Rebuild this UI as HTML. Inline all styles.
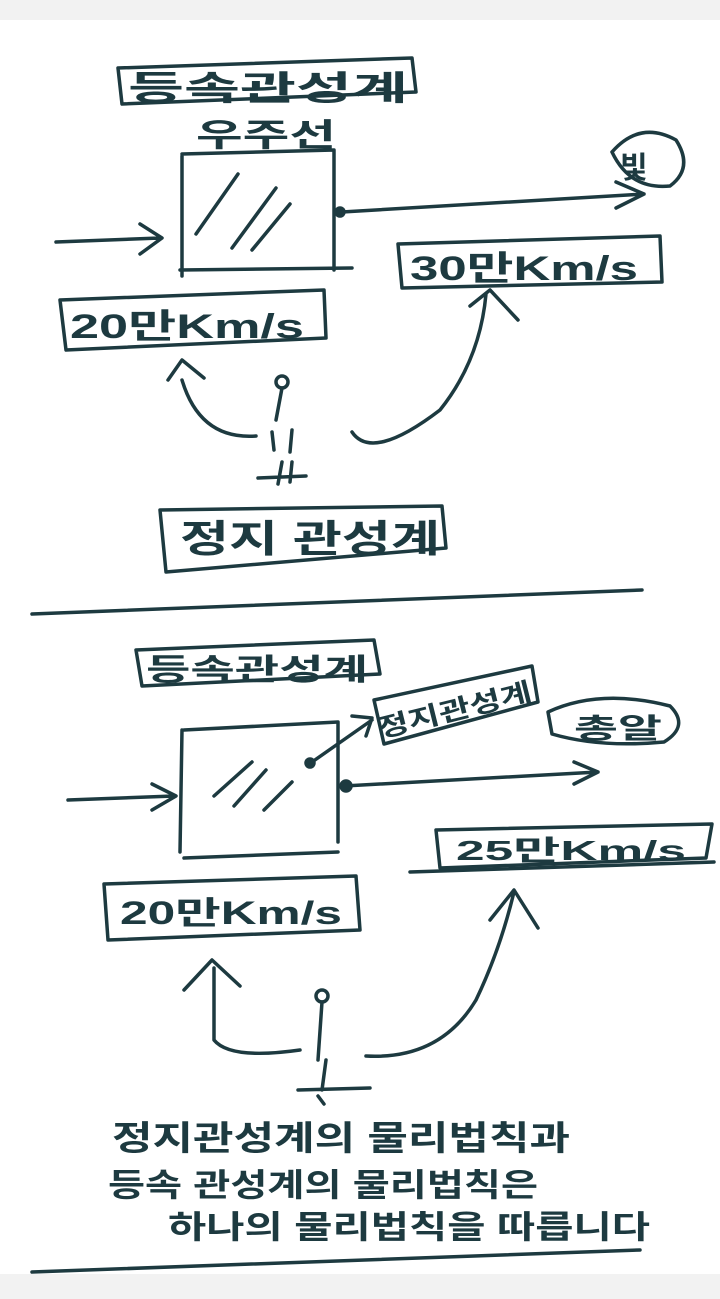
<!DOCTYPE html>
<html><head><meta charset="utf-8"><style>
html,body{margin:0;padding:0;background:#fff;}
svg{display:block;}
text{font-family:"Liberation Sans","Noto Sans CJK KR",sans-serif;fill:#1d3a40;font-weight:bold;}
</style></head><body>
<svg width="720" height="1299" viewBox="0 0 720 1299" xmlns="http://www.w3.org/2000/svg">
<rect x="0" y="0" width="720" height="20" fill="#f2f2f2"/>
<rect x="0" y="1274" width="720" height="25" fill="#f2f2f2"/>
<g fill="none" stroke="#1d3a40" stroke-width="3.5" stroke-linecap="round" stroke-linejoin="round">
<path d="M118 68 L412 58 L416 92 L122 104 Z"/>
<path d="M182 156 L182 276 M182 154 L334 150 L334 270"/>
<path d="M196 234 L238 174 M232 248 L276 188 M252 250 L290 204"/>
<path d="M56 242 L160 238 M140 224 L162 238 L140 254"/>
<path d="M342 212 L644 194 M616 182 L644 194 L616 208"/>
<circle cx="340" cy="212" r="4" fill="#1d3a40"/>
<path d="M612 152 Q640 120 676 140 Q694 168 670 186 Q630 190 612 152"/>
<path d="M180 270 L352 268"/>
<path d="M398 244 L660 236 L662 282 L402 288 Z"/>
<path d="M60 300 L324 290 L326 338 L66 350 Z"/>
<path d="M256 436 Q200 440 182 380 M168 380 L182 360 L204 378"/>
<path d="M352 432 Q372 462 440 410 Q480 360 486 294 M470 306 L490 290 L518 320"/>
<circle cx="282" cy="382" r="6"/>
<path d="M282 388 L276 420 M272 432 L274 450 M292 430 L290 452 M258 478 L306 476 M282 462 L278 484 M292 462 L290 482"/>
<path d="M160 510 L442 506 L446 548 L166 572 Z"/>
<path d="M32 614 L642 590"/>
<path d="M136 650 L374 640 L380 674 L142 686 Z"/>
<path d="M182 730 L180 852 M184 730 L338 722 L338 842 M184 858 L338 852"/>
<path d="M214 796 L252 762 M234 806 L266 770 M264 810 L292 782"/>
<path d="M68 800 L174 796 M152 784 L176 796 L152 810"/>
<path d="M312 762 L372 720 M352 716 L372 718 L366 736"/>
<circle cx="310" cy="763" r="4" fill="#1d3a40"/>
<path d="M344 786 L598 772 M574 762 L598 772 L574 784"/>
<circle cx="346" cy="786" r="5" fill="#1d3a40"/>
<path d="M374 700 L532 666 L538 702 L384 744 Z"/>
<path d="M548 712 Q600 688 670 706 Q690 726 664 742 Q600 748 552 734 Z"/>
<path d="M410 872 L714 862"/>
<path d="M436 830 L712 824 L706 858 L440 868 Z"/>
<path d="M104 884 L356 876 L360 930 L108 940 Z"/>
<path d="M300 1050 Q230 1060 214 1040 L214 968 M184 990 L212 960 L240 986"/>
<path d="M366 1056 Q440 1060 476 1000 Q500 950 514 892 M490 920 L514 890 L538 928"/>
<circle cx="322" cy="996" r="6"/>
<path d="M322 1002 L318 1060 M326 1060 L322 1090 M298 1090 L370 1088 M318 1096 L324 1104"/>
<path d="M32 1272 L640 1250"/>
</g>
<text x="128" y="100" font-size="34" textLength="280" lengthAdjust="spacingAndGlyphs">등속관성계</text>
<text x="196" y="146" font-size="32" textLength="140" lengthAdjust="spacingAndGlyphs">우주선</text>
<text x="620" y="178" font-size="30">빛</text>
<text x="410" y="280" font-size="34" textLength="228" lengthAdjust="spacingAndGlyphs">30만Km/s</text>
<text x="70" y="338" font-size="34" textLength="234" lengthAdjust="spacingAndGlyphs">20만Km/s</text>
<text x="180" y="552" font-size="38" textLength="260" lengthAdjust="spacingAndGlyphs">정지 관성계</text>
<text x="146" y="680" font-size="30" textLength="222" lengthAdjust="spacingAndGlyphs">등속관성계</text>
<text x="380" y="738" font-size="26" textLength="158" lengthAdjust="spacingAndGlyphs" transform="rotate(-14 380 738)">정지관성계</text>
<text x="574" y="738" font-size="28" textLength="88" lengthAdjust="spacingAndGlyphs">총알</text>
<text x="456" y="860" font-size="28" textLength="230" lengthAdjust="spacingAndGlyphs">25만Km/s</text>
<text x="120" y="924" font-size="32" textLength="222" lengthAdjust="spacingAndGlyphs">20만Km/s</text>
<text x="112" y="1150" font-size="34" textLength="458" lengthAdjust="spacingAndGlyphs">정지관성계의 물리법칙과</text>
<text x="108" y="1196" font-size="32" textLength="430" lengthAdjust="spacingAndGlyphs">등속 관성계의 물리법칙은</text>
<text x="168" y="1238" font-size="32" textLength="482" lengthAdjust="spacingAndGlyphs">하나의 물리법칙을 따릅니다</text>
</svg>
</body></html>
